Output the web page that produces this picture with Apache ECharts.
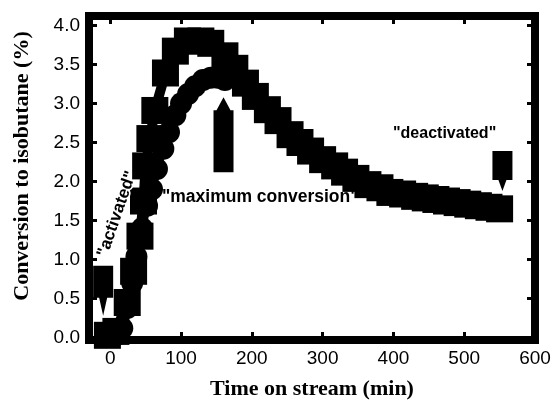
<!DOCTYPE html>
<html>
<head>
<meta charset="utf-8">
<script src="https://cdn.jsdelivr.net/npm/echarts@6/dist/echarts.min.js"></script>
<style>
  html, body { margin: 0; background: #fff; }
  #chart { width: 555px; height: 400px; }
</style>
</head>
<body>
<div id="chart"></div>
<script>
// square series (the long run that deactivates)
const squareX = [-4, 8, 24, 33, 42, 47, 50, 56, 63, 78, 92, 109, 128, 142, 162, 176, 191, 205, 222, 237,
  254, 268, 283, 300, 317, 331, 347, 364, 381, 395, 413, 430, 445, 460, 475, 490, 505, 520, 535, 550];
const squareY = [0.03, 0.08, 0.45, 0.85, 1.3, 1.75, 2.2, 2.55, 2.91, 3.39, 3.67, 3.8, 3.8, 3.77, 3.61, 3.45, 3.26, 3.09, 2.92, 2.78,
  2.6, 2.5, 2.39, 2.28, 2.2, 2.12, 2.04, 1.96, 1.92, 1.86, 1.84, 1.81, 1.79, 1.77, 1.75, 1.73, 1.71, 1.69, 1.67, 1.65];

// circle series (stopped at the maximum)
const circleX = [8, 17, 24, 31, 37, 45, 52, 59, 66, 75, 83, 92, 100, 110, 120, 131, 142, 152, 162];
const circleY = [0.03, 0.12, 0.38, 0.7, 1.04, 1.4, 1.69, 1.9, 2.16, 2.42, 2.63, 2.85, 3.0, 3.12, 3.22, 3.3, 3.33, 3.33, 3.3];

// arrow annotations: where each tip points
const arrowTips = {
  activated: [-10, 0.28],
  maximum: [160, 3.08],
  deactivated: [554, 1.88],
};

const chart = echarts.init(document.getElementById('chart'));

const pairs = (xs, ys) => xs.map((x, i) => [x, ys[i]]);

const tickStyle = { show: true, inside: true, length: 8, lineStyle: { color: '#000', width: 3 } };
const hiddenLine = { show: false, onZero: false };
const labelFont = { color: '#000', fontSize: 19, fontFamily: '"Liberation Sans", Arial, sans-serif' };
const nameFont = { color: '#000', fontSize: 22, fontWeight: 'bold', fontFamily: '"Liberation Serif", "Times New Roman", serif' };

const option = {
  animation: false,
  backgroundColor: '#fff',
  grid: {
    left: 89, right: 20, top: 16, bottom: 60,
    outerBoundsMode: 'none', containLabel: false,
    show: true, borderColor: '#000', borderWidth: 8, backgroundColor: 'transparent',
  },
  xAxis: [
    {
      type: 'value', min: -30, max: 600, splitNumber: 6, position: 'bottom',
      axisLine: hiddenLine, axisTick: tickStyle, splitLine: { show: false },
      axisLabel: { ...labelFont, margin: 9, showMinLabel: false },
      name: 'Time on stream (min)', nameLocation: 'middle', nameGap: 38, nameTextStyle: nameFont,
    },
    {
      type: 'value', min: -30, max: 600, splitNumber: 6, position: 'top',
      axisLine: hiddenLine, axisTick: tickStyle, splitLine: { show: false },
      axisLabel: { show: false },
    },
  ],
  yAxis: [
    {
      type: 'value', min: -0.03, max: 4.12, splitNumber: 8, position: 'left',
      axisLine: hiddenLine, axisTick: tickStyle, splitLine: { show: false },
      axisLabel: { ...labelFont, margin: 9, showMinLabel: false, showMaxLabel: false,
        formatter: v => v.toFixed(1) },
    },
    {
      type: 'value', min: -0.03, max: 4.12, splitNumber: 8, position: 'right',
      axisLine: hiddenLine, axisTick: tickStyle, splitLine: { show: false },
      axisLabel: { show: false },
    },
  ],
  series: [
    {
      type: 'line',
      data: pairs(circleX, circleY),
      symbol: 'circle', symbolSize: 22,
      itemStyle: { color: '#000' },
      lineStyle: { color: '#000', width: 8 },
      clip: false,
      z: 3,
    },
    {
      type: 'line',
      data: pairs(squareX, squareY),
      symbol: 'rect', symbolSize: 27,
      itemStyle: { color: '#000' },
      lineStyle: { color: '#000', width: 10 },
      clip: false,
      z: 4,
      markPoint: {
        silent: true,
        label: { show: false },
        itemStyle: { color: '#000' },
        data: [
          { coord: arrowTips.activated, symbol: 'path://M0,0H20V32H14L10,50L6,32H0Z',
            symbolSize: [20, 50], symbolOffset: [0, '-50%'] },
          { coord: arrowTips.maximum, symbol: 'path://M3,13L10,0L17,13H20V75H0V13Z',
            symbolSize: [20, 75], symbolOffset: [0, '50%'] },
          { coord: arrowTips.deactivated, symbol: 'path://M0,0H20V29H14L10,40L6,29H0Z',
            symbolSize: [20, 40], symbolOffset: [0, '-50%'] },
        ],
      },
    },
  ],
  graphic: [
    {
      type: 'text', x: 22, y: 166, rotation: Math.PI / 2, z: 1,
      style: { text: 'Conversion to isobutane (%)', fill: '#000',
        font: 'bold 22px "Liberation Serif", "Times New Roman", serif',
        textAlign: 'center', textVerticalAlign: 'middle' },
    },
    {
      type: 'text', x: 162, y: 197, z: 1,
      style: { text: '"maximum conversion"', fill: '#000',
        font: 'bold 17.5px "Liberation Sans", Arial, sans-serif', textVerticalAlign: 'middle' },
    },
    {
      type: 'text', x: 393, y: 134, z: 1,
      style: { text: '"deactivated"', fill: '#000',
        font: 'bold 16px "Liberation Sans", Arial, sans-serif', textVerticalAlign: 'middle' },
    },
    {
      type: 'text', x: 117, y: 214, z: 100, rotation: 71 * Math.PI / 180,
      style: { text: '"activated"', fill: '#000', stroke: '#fff', lineWidth: 3,
        font: 'bold 17px "Liberation Sans", Arial, sans-serif',
        textAlign: 'center', textVerticalAlign: 'middle' },
    },
  ],
};

chart.setOption(option);
</script>
</body>
</html>
